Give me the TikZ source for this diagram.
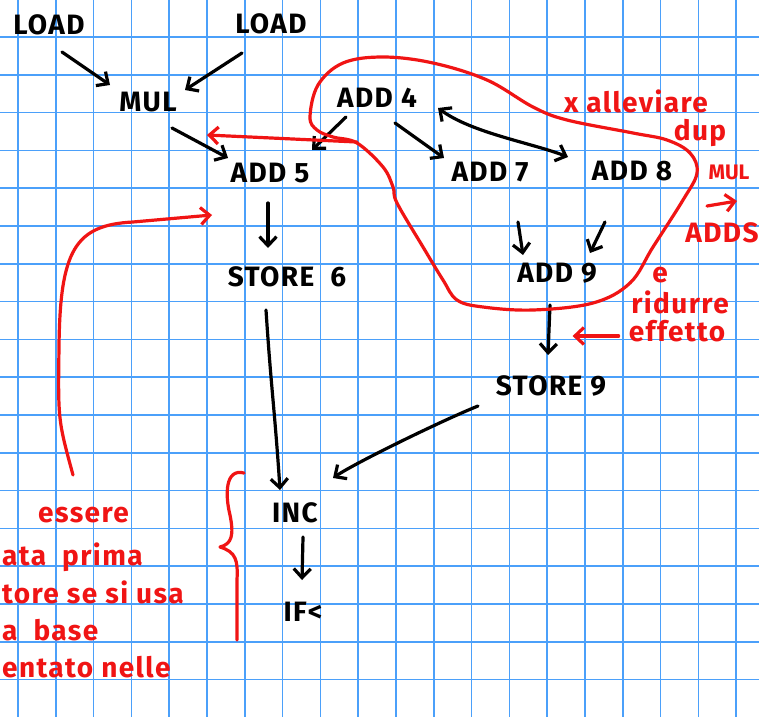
\documentclass[tikz,border=0pt]{standalone}
\usepackage{fontspec}
\setmainfont{Fira Sans}
\usetikzlibrary{calc,arrows.meta}
\definecolor{gridblue}{RGB}{75,160,250}
\definecolor{inkred}{RGB}{240,20,20}
\tikzset{
  gridline/.style={line width=1.6pt, draw=gridblue},
  lbl/.style={font=\fontsize{28}{30}\selectfont\bfseries\addfontfeature{LetterSpace=5}, inner sep=0pt},
  note/.style={lbl, text=inkred},
  flow/.style={line width=3.2pt, line cap=round, -{Straight Barb[length=9pt,width=17pt]}},
  twoway/.style={flow, {Straight Barb[length=9pt,width=17pt]}-{Straight Barb[length=9pt,width=17pt]}},
  redflow/.style={flow, draw=inkred},
  redline/.style={line width=3.2pt, draw=inkred, line cap=round, line join=round}
}

\begin{document}
\begin{tikzpicture}[x=1pt,y=-1pt]
			%%%%% PAPER %%%%%
			
			\useasboundingbox (0,0) rectangle (759,717);
			\clip (0,0) rectangle (759,717);
			\fill[white] (0,0) rectangle (759,717);
			\foreach \i in {0,...,19} \draw[gridline] ({18+37.8*\i},0) -- ++(0,717);
			\foreach \j in {0,...,18} \draw[gridline] (0,{-0.8+37.8*\j}) -- ++(759,0);
			
			%%%%% NODES %%%%%
			
			\node[lbl] (load1) at (49,25) {LOAD};
			\node[lbl] (load2) at (271,24) {LOAD};
			\node[lbl] (mul) at (148,102) {MUL};
			\node[lbl] (add4) at (377,98) {ADD 4};
			\node[lbl] (add5) at (270,173) {ADD 5};
			\node[lbl] (add7) at (490,172) {ADD 7};
			\node[lbl] (add8) at (632,171) {ADD 8};
			\node[lbl] (add9) at (557,273) {ADD 9};
			\node[lbl] (store6) at (287,277) {STORE \ 6};
			\node[lbl] (store9) at (551,386) {STORE 9};
			\node[lbl] (inc) at (295,513) {INC};
			\node[lbl] (ifl) at (303,612) {IF<};
			
			%%%%% ARROWS %%%%%
			
			\draw[flow] ($(load1)+(13,27)$) -- ($(mul)+(-38,-17)$);
			\draw[flow] ($(load2)+(-29,29)$) -- ($(mul)+(37,-12)$);
			\draw[flow] ($(mul)+(24,26)$) -- ($(add5)+(-42,-15)$);
			\draw[flow] ($(add4)+(-31,19)$) -- ($(add5)+(42,-23)$);
			\draw[flow] ($(add4)+(18,25)$) -- ($(add7)+(-46,-14)$);
			\draw[twoway] ($(add4)+(61,10)$) .. controls ($(add4)+(95,35)$) and ($(add8)+(-100,-28)$) .. ($(add8)+(-64,-14)$);
			\draw[flow] ($(add5)+(-2,30)$) -- ($(store6)+(-19,-29)$);
			\draw[flow] ($(store6)+(-21,33)$) .. controls ($(store6)+(-16,110)$) and ($(inc)+(-20,-100)$) .. ($(inc)+(-15,-23)$);
			\draw[flow] ($(store9)+(-73,20)$) .. controls ($(store9)+(-110,35)$) and ($(inc)+(60,-50)$) .. ($(inc)+(38,-35)$);
			\draw[flow] ($(add7)+(28,50)$) -- ($(add9)+(-34,-18)$);
			\draw[flow] ($(add8)+(-27,51)$) -- ($(add9)+(33,-20)$);
			\draw[flow] ($(add9)+(-7,32)$) -- ($(store9)+(-3,-31)$);
			\draw[flow] ($(inc)+(8,24)$) -- ($(ifl)+(-1,-32)$);
			
			%%%%% RED NOTES %%%%%
			
			\draw[redline] plot[smooth cycle, tension=0.6] coordinates {(310,117) (318,85) (343,63) (383,57) (433,63) (487,80) (533,107) (567,120) (633,133) (667,140) (690,153) (697,173) (683,200) (653,247) (630,283) (593,303) (533,310) (483,307) (457,300) (443,280) (423,247) (397,203) (393,187) (383,167) (357,143) (333,137) (317,130)};
			\coordinate (blobedge) at (357,142);
			\draw[redflow] (blobedge) -- ($(add5)+(-63,-38)$);
			
			\coordinate (leftstart) at (73,475);
			\draw[redflow] (leftstart) .. controls (58,420) .. (59,347) .. controls (60,250) and (75,225) .. (133,222) -- ($(add5)+(-58,42)$);
			
			\draw[redline] (244,473) .. controls (225,468) and (225,495) .. (230,515) .. controls (234,535) and (232,544) .. (220,547) .. controls (236,552) and (238,560) .. (237,580) -- (237,640);
			
			\node[note] (allev) at (636,101) {x alleviare};
			\node[note] (dup) at (700,133) {dup};
			\node[note, font=\fontsize{21}{22}\selectfont\bfseries] (mulnote) at (729,172) {MUL};
			\node[note] (addsnote) at (722,233) {ADDS};
			\draw[redflow] ($(mulnote)+(-22,34)$) -- ++(30,-5);
			
			\node[note] (enote) at (660,275) {e};
			\node[note] (ridurre) at (680,302) {ridurre};
			\node[note] (effetto) at (677,331) {effetto};
			\draw[redflow] ($(effetto.west)+(-10,5)$) -- ++(-46,0);
			
			\node[note, anchor=west] (l1) at (38,515) {essere};
			\node[note, anchor=west] (l2) at (2,557) {ata \ prima};
			\node[note, anchor=west] (l3) at (2,592) {tore se si usa};
			\node[note, anchor=west] (l4) at (2,630) {a \ base};
			\node[note, anchor=west] (l5) at (2,667) {entato nelle};
			
			%%%%% END %%%%%
		\end{tikzpicture}
\end{document}
